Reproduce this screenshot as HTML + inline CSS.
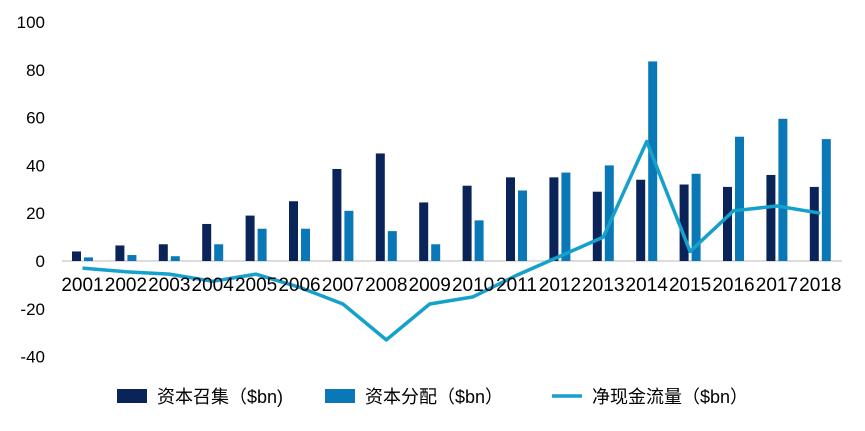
<!DOCTYPE html>
<html><head><meta charset="utf-8"><style>
body{margin:0;background:#fff}
text{font-family:"Liberation Sans","Noto Sans CJK SC",sans-serif;fill:#000}
</style></head><body>
<svg width="865" height="426" xmlns="http://www.w3.org/2000/svg">
<g font-size="17" text-anchor="end" id="yt"></g>
<line x1="62" x2="842" y1="261" y2="261" stroke="#d0d0d0" stroke-width="1.5"/>
<g id="bars"></g>
<polyline id="ln" fill="none" stroke="#16a0cc" stroke-width="3.5" stroke-linejoin="round"/>
<g id="xl" font-size="19" text-anchor="middle"></g>
<rect x="117" y="389" width="30" height="14" fill="#0a2459"/>
<text x="157" y="403" font-size="18">资本召集（$bn)</text>
<rect x="325" y="389" width="30" height="14" fill="#0a78b6"/>
<text x="365" y="403" font-size="18">资本分配（$bn）</text>
<line x1="552" x2="582" y1="396" y2="396" stroke="#16a0cc" stroke-width="3.5"/>
<text x="592" y="403" font-size="18">净现金流量（$bn）</text>
<script>
const ns="http://www.w3.org/2000/svg";
const Y=v=>261-v*2.39;
const yt=document.getElementById('yt');
for(let v=-40;v<=100;v+=20){const t=document.createElementNS(ns,'text');t.setAttribute('x',45);t.setAttribute('y',Y(v)+6);t.textContent=v;yt.appendChild(t);}
const d=[4,6.5,7,15.5,19,25,38.5,45,24.5,31.5,35,35,29,34,32,31,36,31];
const b=[1.5,2.5,2,7,13.5,13.5,21,12.5,7,17,29.5,37,40,83.5,36.5,52,59.5,51];
const l=[-3,-4.5,-5.5,-8.5,-5.5,-11,-18,-33,-18,-15,-6,2,10,50,4,21,23,20];
const g=document.getElementById('bars'),xl=document.getElementById('xl');let pts=[];
for(let i=0;i<18;i++){const cx=82.5+i*43.4;
[[d[i],cx-10.5,'#0a2459'],[b[i],cx+1.5,'#0a78b6']].forEach(([v,x,c])=>{const r=document.createElementNS(ns,'rect');r.setAttribute('x',x);r.setAttribute('width',9);r.setAttribute('y',Y(v));r.setAttribute('height',261-Y(v));r.setAttribute('fill',c);g.appendChild(r);});
const t=document.createElementNS(ns,'text');t.setAttribute('x',cx);t.setAttribute('y',291);t.textContent=2001+i;xl.appendChild(t);
pts.push(cx+','+Y(l[i]));}
document.getElementById('ln').setAttribute('points',pts.join(' '));
</script>
</svg>
</body></html>
